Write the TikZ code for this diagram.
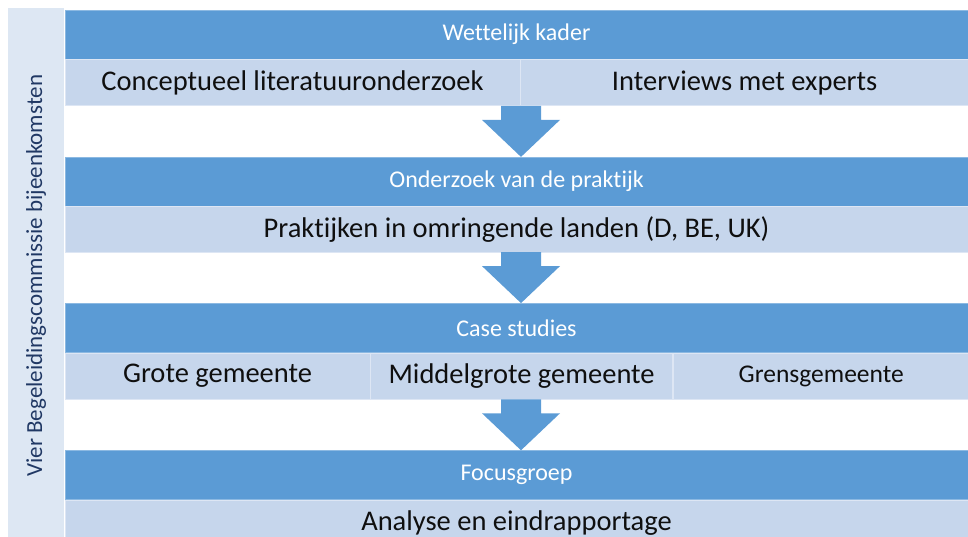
\documentclass[tikz,border=0pt]{standalone}
\usepackage{fontspec}
\setmainfont[Ligatures=CommonOff]{Carlito}
\usetikzlibrary{positioning,calc}
\definecolor{headblue}{RGB}{91,155,213}
\definecolor{rowblue}{RGB}{198,214,236}
\definecolor{sideblue}{RGB}{221,231,243}
\definecolor{sidetext}{RGB}{32,56,100}
\definecolor{celltext}{RGB}{15,15,15}
\tikzstyle{headbar} = [rectangle, fill=headblue, draw=headblue!70!white, line width=0.6pt, text=white,
  minimum width=903pt, minimum height=49pt, inner sep=0pt, font=\fontsize{24}{28}\selectfont]
\tikzstyle{cell} = [rectangle, fill=rowblue, draw=rowblue!60!white, line width=0.6pt, text=celltext,
  minimum height=46pt, inner sep=0pt, anchor=north west, font=\fontsize{28.5}{32}\selectfont]
\tikzstyle{sidebar} = [rectangle, fill=sideblue, rotate=90, text=sidetext, inner sep=0pt,
  minimum width=535pt, minimum height=56pt, font=\fontsize{23}{27}\selectfont]
\tikzstyle{arrowfill} = [fill=headblue]
% block arrow from the row above (#1) to the header below (#2)
\newcommand{\flowdown}[2]{%
  \fill[arrowfill] ($(#1.south -| #2.north)+(-15.5pt,0)$) -- ($(#1.south -| #2.north)+(24.5pt,0)$)
    -- ($(#2.north)+(24.5pt,37pt)$) -- ($(#2.north)+(43.5pt,37pt)$) -- ($(#2.north)+(4.5pt,0)$)
    -- ($(#2.north)+(-34.5pt,37pt)$) -- ($(#2.north)+(-15.5pt,37pt)$) -- cycle;}

\begin{document}
\begin{tikzpicture}
        \useasboundingbox (0,0) rectangle (968pt,-537pt);
        % Side ------------------------------------------------------------------------------------
        \node[sidebar, anchor=north east] (side) at (8pt,-8pt) {Vier Begeleidingscommissie bijeenkomsten};
        % Wettelijk kader ---------------------------------------------------------------------------
        \node[headbar] (kader) at (516.5pt,-34.5pt) {Wettelijk kader};
        \node[cell, minimum width=455pt] (literatuur) at (kader.south west) {Conceptueel literatuuronderzoek};
        \node[cell, minimum width=448pt] (interviews) at (literatuur.north east) {Interviews met experts};
        % Praktijk --------------------------------------------------------------------------------
        \node[headbar, below=51pt of literatuur.south -| kader.south, anchor=north] (praktijk) {Onderzoek van de praktijk};
        \node[cell, minimum width=903pt, minimum height=45pt] (landen) at (praktijk.south west) {Praktijken in omringende landen (D, BE, UK)};
        % Case studies ----------------------------------------------------------------------------
        \node[headbar, below=51pt of landen.south, anchor=north] (cases) {Case studies};
        \node[cell, minimum width=305pt] (grote) at (cases.south west) {Grote gemeente};
        \node[cell, minimum width=302pt] (middel) at (grote.north east) {Middelgrote gemeente};
        \node[cell, minimum width=296pt, font=\fontsize{25.5}{29}\selectfont] (grens) at (middel.north east) {\raisebox{4pt}{Grensgemeente}};
        % Focusgroep ------------------------------------------------------------------------------
        \node[headbar, below=51pt of grote.south -| cases.south, anchor=north] (focus) {Focusgroep};
        \node[cell, minimum width=903pt] (analyse) at (focus.south west) {Analyse en eindrapportage};
        % Arrows ----------------------------------------------------------------------------------
        \flowdown{literatuur}{praktijk}
        \flowdown{landen}{cases}
        \flowdown{middel}{focus}
    \end{tikzpicture}
\end{document}
